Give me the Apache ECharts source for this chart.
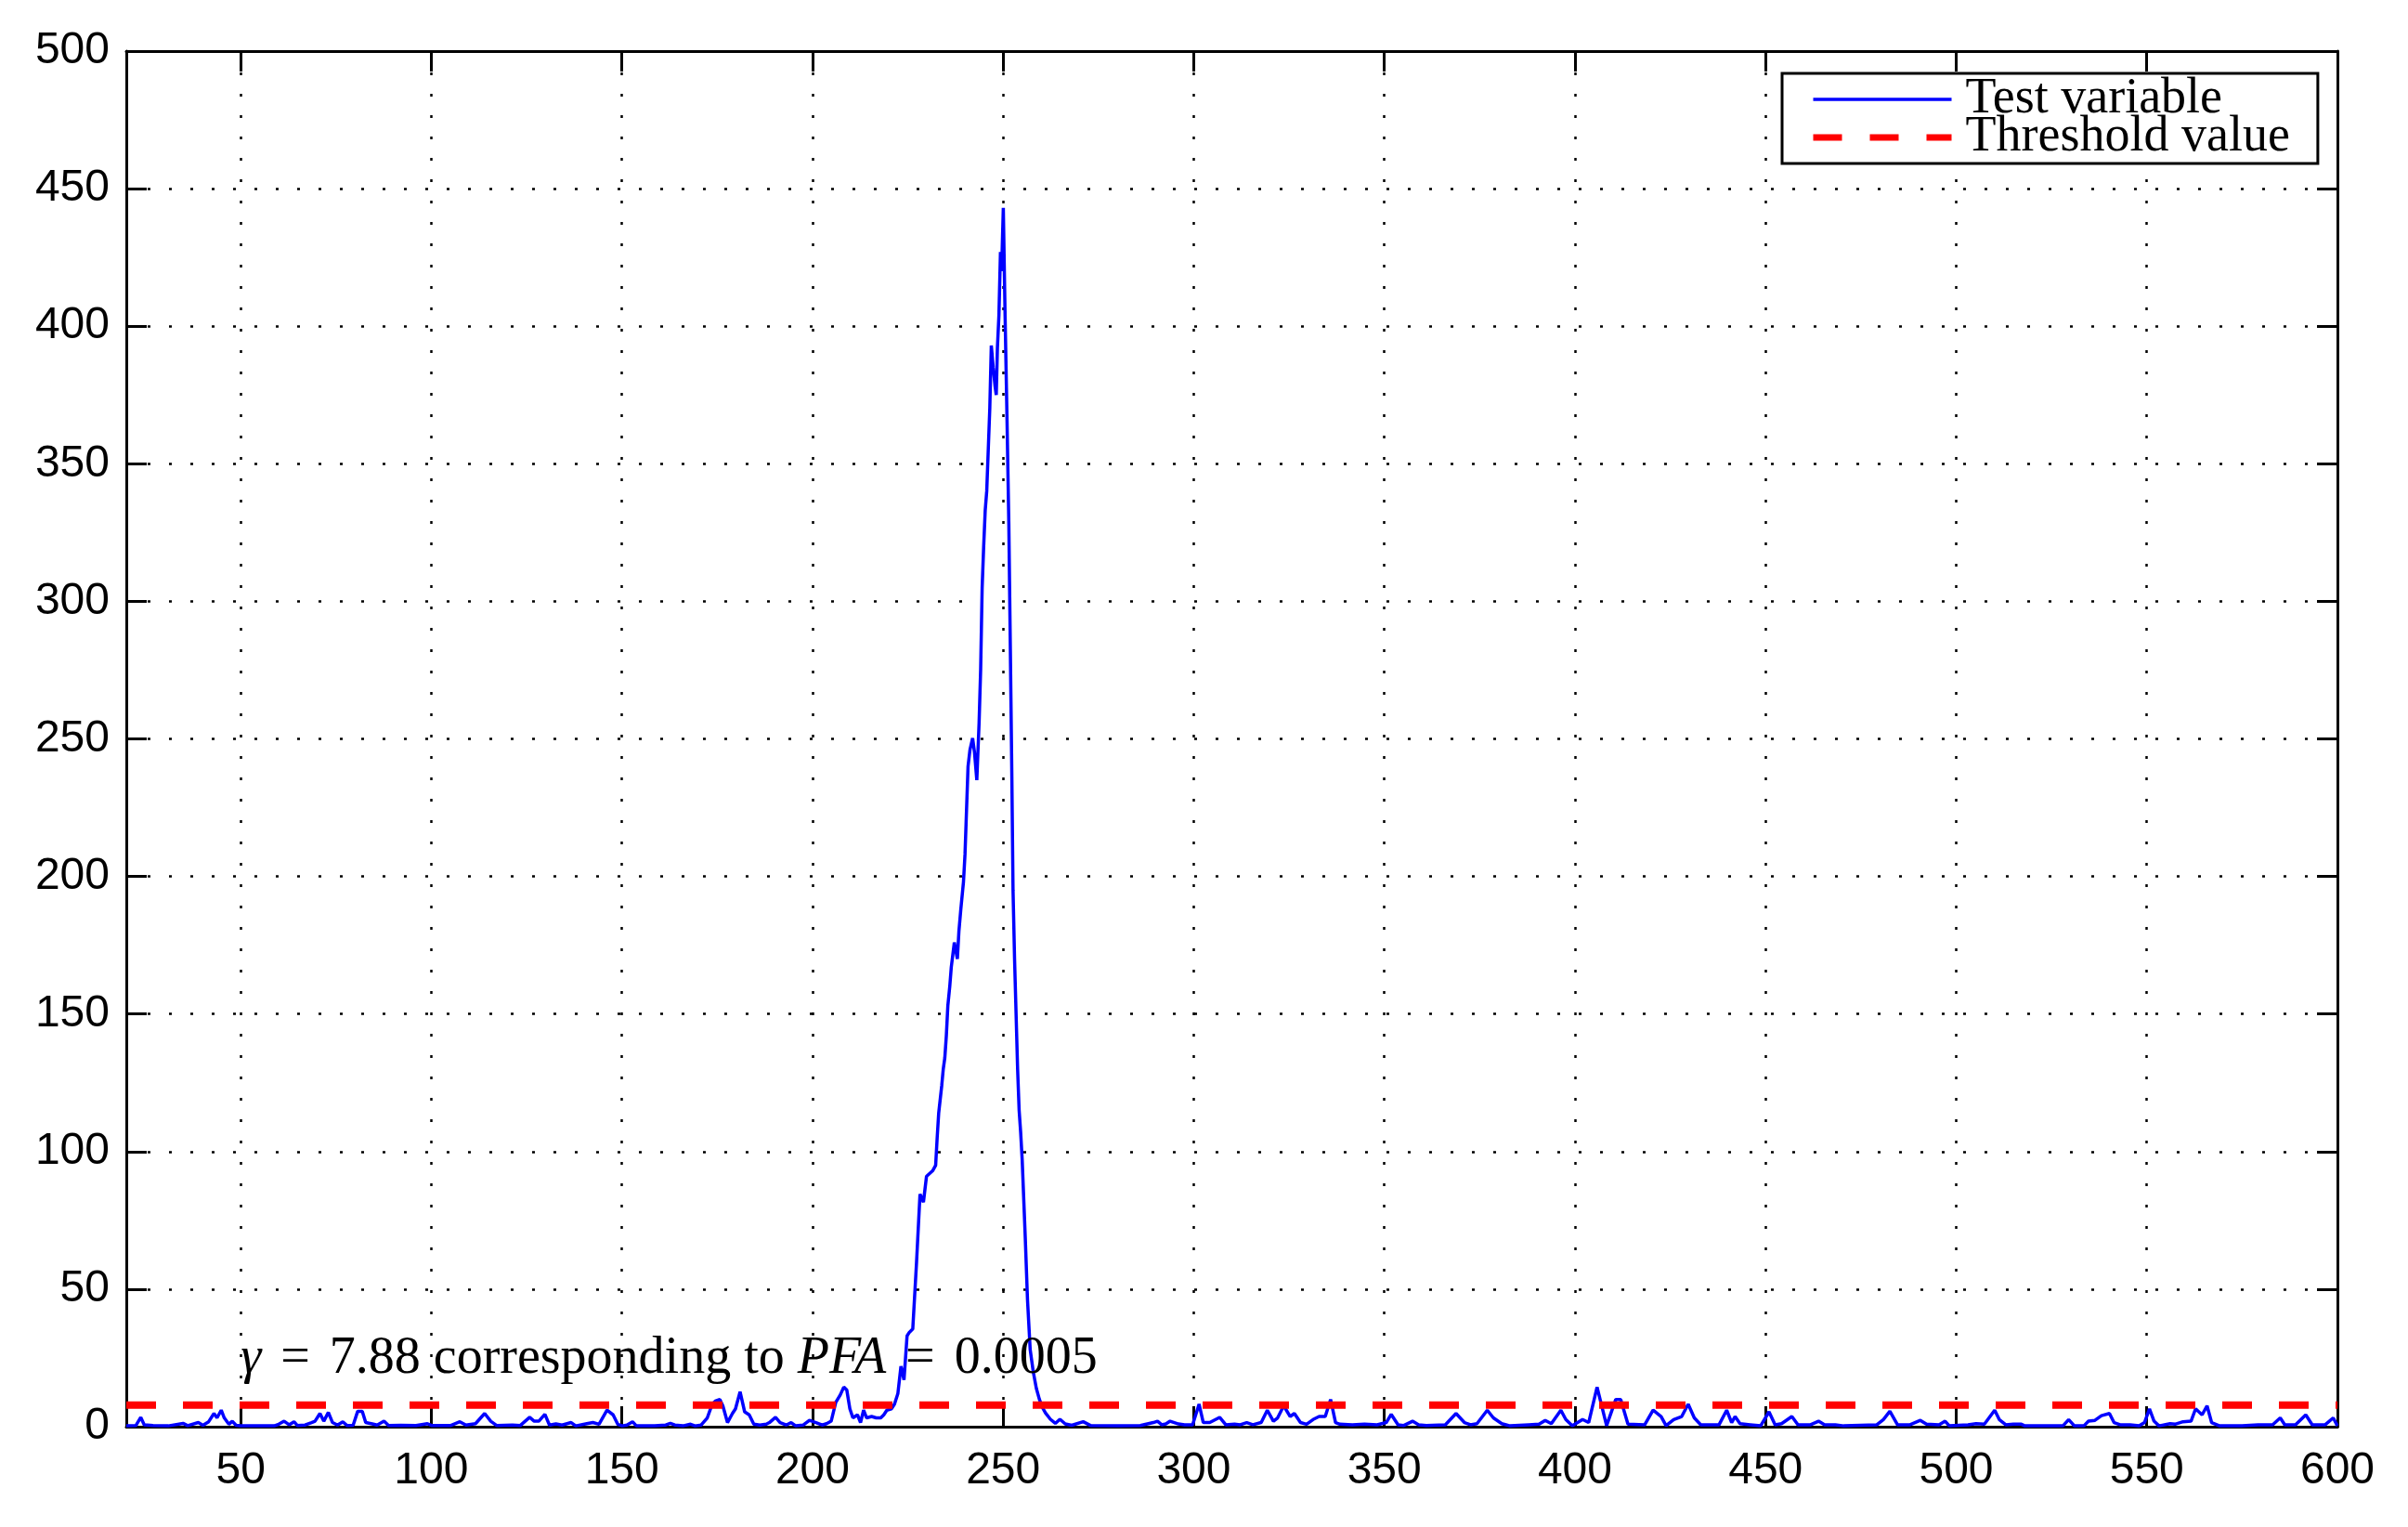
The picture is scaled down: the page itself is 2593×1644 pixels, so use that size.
<!DOCTYPE html>
<html>
<head>
<meta charset="utf-8">
<script src="https://cdn.jsdelivr.net/npm/echarts@6/dist/echarts.min.js"></script>
<style>
  html, body { margin: 0; padding: 0; background: #fff; }
  #main { width: 2593px; height: 1644px; }
</style>
</head>
<body>
<div id="main"></div>
<script>
// sample positions and test variable values
const sampleX = [
  20, 22.5, 23.8, 24.7, 27, 31, 34.9, 36.1, 38.9, 40.1, 41.6, 43, 43.8, 44.9, 45.7, 46.9, 47.8, 48.8,
  50, 55, 58.8, 60, 61.4, 62.7, 64, 64.9, 66.9, 68.6, 69.5, 70.8, 71.8, 73, 74.1, 75.4, 76.8, 77.9,
  79.5, 80.7, 81.9, 82.8, 84.8, 85.8, 87.6, 88.8, 92, 96, 99, 100.2, 105, 107.5, 109.1, 111.6, 114,
  115.6, 117.2, 121.3, 123.3, 125.8, 127, 128.2, 129.8, 131, 132.7, 134.3, 136.7, 137.9, 140.8, 142.4,
  144, 146.1, 147.7, 148.9, 150.1,
  151.3, 152.8, 153.8, 158.6, 161.5, 162.7, 163.9, 166, 168, 169.2, 170.8, 172.4, 173.7, 174.5, 175.7,
  176.5, 177.7, 179, 179.8, 181, 182.2, 183.4, 184.6, 186.2, 187.9, 188.7, 190.3, 191.5, 193.1, 194.4,
  195.6, 197.6, 199.2, 200.9, 202.5, 203.7, 204.9, 206.1, 207.3, 208.2, 209, 209.8, 210.6, 211.8,
  212.6, 213.4, 214.2, 215.5, 216.7, 217.9, 218.7, 219.5, 220.7, 221.5, 222.4,
  223.2, 224, 224.8, 225.4, 226.3, 227.3, 228.2, 229.1, 229.9, 231.5, 232.3, 232.7, 233.1, 233.5,
  233.9, 234.3, 234.7, 235.1, 235.5, 236, 236.4, 237.2, 238, 238.4, 238.9, 239.6, 240, 240.3, 240.8,
  241.3, 242, 242.5, 243.1, 243.7, 244.1, 244.5, 244.9, 245.3, 245.7, 246.1, 246.5, 246.9, 247.4,
  247.9, 248.2, 248.5, 248.9, 249.3, 249.6, 250.05,
  250.5, 251, 251.5, 251.9, 252.3, 252.6, 253, 253.4, 253.8, 254.2, 254.6, 255, 255.8, 256.4, 257.1,
  257.9, 258.7, 259.5, 260.3, 261.1, 262.4, 263.7, 264.9, 266.3, 268, 271, 273,
  280, 286, 289.4, 290.5, 291.6, 292.7, 293.8, 296, 297.6, 299.7, 301.4, 302.5, 304.2, 306.8, 308.4,
  310.7, 312.2, 313.9, 315.5, 317.7, 319.3, 320.9, 322, 323.6, 325.3, 326.4, 328, 329.6, 331.3, 332.9,
  334.5, 335.9, 337.2, 338.3, 341.6, 344.8, 348.1, 350.5, 351.8, 353.6,
  355, 357.4, 359, 361, 366, 368.8, 371, 372.6, 374.3, 377, 378.6, 380.8, 383, 387.9, 390.6, 392.2,
  393.8, 396.3, 397.6, 399.3, 402, 403.6, 405.8, 408.3, 410.7, 412, 413.9, 418.3, 420.5, 422.6, 423.9,
  425.9, 428, 429.7, 431.3, 433, 437.8, 439.8, 441.1, 442, 443.3, 446, 448.7, 450.9, 452.5, 454.2,
  456.9, 458.5, 461.8, 463.9, 465.5, 468.3, 470.5, 479.2, 480.9, 482.6, 484.6, 487.9, 490.6, 492.2,
  495.5, 497.1, 498.2, 503.1, 505.2, 507.4, 510.1,
  511.3, 513, 515, 517.1, 518, 528, 529.5, 531, 533.5, 534.7, 536.4, 538.1, 540.2, 541.4, 543, 545.6,
  548, 549.4, 550.7, 551.9, 553.2, 556.1, 557.4, 559.5, 561.6, 562.8, 564.5, 565.8, 567, 569.1, 575,
  579.2, 581.3, 583, 585, 586.2, 589, 591.7, 593.4, 596.8, 598.9, 600
];
const testValues = [
  0.3, 0.4, 3.4, 0.7, 0.4, 0.3, 1.2, 0.4, 1.5, 0.5, 1.8, 4.8, 3.2, 6.0, 3.2, 0.9, 2.0, 0.5,
  0.3, 0.3, 0.3, 0.9, 2.0, 0.7, 1.8, 0.4, 0.6, 1.5, 2.0, 4.8, 2.0, 5.2, 1.5, 0.6, 1.8, 0.4,
  0.5, 5.6, 5.6, 1.5, 0.9, 0.6, 2.0, 0.4, 0.5, 0.4, 1.1, 0.4, 0.4, 1.8, 0.6, 1.1, 4.8,
  2.0, 0.4, 0.6, 0.4, 3.4, 2.0, 2.0, 4.5, 0.6, 1.0, 0.6, 1.5, 0.3, 1.1, 1.5,
  0.9, 6.0, 4.3, 0.9, 0.3,
  0.6, 1.8, 0.3, 0.3, 0.6, 1.2, 0.6, 0.3, 0.9, 0.3, 0.6, 3.2, 8.2, 9.3, 9.9,
  7.5, 1.5, 4.8, 6.5, 12.7, 5.4, 4.3, 0.9, 0.6, 0.9, 1.5, 3.4, 1.5, 0.6, 1.5,
  0.3, 0.6, 2.3, 1.5, 0.6, 1.1, 2.0, 8.8, 11.6, 14.4, 13.3, 6.5, 3.2, 4.3,
  1.5, 6.0, 3.2, 3.7, 3.2, 3.2, 4.3, 6.0, 6.5, 8.2, 12.1,
  22, 17, 33, 34.3, 35.5, 60, 84.5, 81.6, 91, 93, 95, 105, 114, 119,
  124, 130, 134, 142, 153, 160, 167, 176, 170, 180, 188, 198, 208, 220, 240,
  246, 250.3, 245, 235, 256, 275, 305, 320, 333, 340, 355, 370, 393, 385,
  378, 375, 392, 404, 427, 420, 443,
  405, 368, 328, 282, 235, 195, 170, 150, 130, 115, 107, 97, 69, 46, 28,
  20, 14, 10, 7, 5, 2.7, 1.2, 2.7, 1.0, 0.5, 1.8, 0.4,
  0.3, 0.4, 1.5, 2.0, 0.7, 1.0, 2.0, 1.0, 0.7, 0.7, 8.2, 1.5, 1.5, 3.4, 0.7,
  0.9, 0.7, 1.5, 0.7, 1.5, 6.0, 2.0, 3.2, 7.6, 3.7, 4.8, 1.5, 0.9, 2.6, 3.7,
  3.7, 9.9, 1.5, 0.9, 0.7, 0.9, 0.7, 1.5, 4.5, 0.7,
  0.4, 2.0, 0.7, 0.4, 0.7, 4.8, 1.5, 0.7, 1.1, 6.0, 3.2, 1.1, 0.3, 0.7, 0.9, 2.3,
  1.1, 6.0, 2.6, 0.3, 2.6, 1.5, 14.4, 0.4, 9.9, 9.9, 0.9, 0.7, 6.0, 3.7, 0.4,
  2.6, 3.7, 8.2, 3.2, 0.7, 0.7, 6.0, 1.5, 3.7, 1.1, 0.7, 0.3, 5.4, 0.7, 1.1,
  3.7, 0.7, 0.7, 2.0, 0.7, 0.7, 0.3, 0.7, 2.6, 5.6, 0.7, 0.7, 2.3, 0.9,
  0.7, 2.0, 0.3, 0.7, 1.1, 0.9, 6.0,
  2.6, 0.7, 0.9, 0.9, 0.3, 0.3, 2.6, 0.3, 0.3, 2.0, 2.3, 4.0, 4.8, 1.5, 0.7, 0.7,
  0.3, 1.5, 6.5, 2.0, 0.3, 1.1, 0.9, 1.8, 2.0, 6.5, 4.3, 7.6, 1.5, 0.3, 0.3,
  0.7, 0.7, 0.7, 3.2, 0.7, 0.7, 4.3, 0.7, 0.7, 3.2, 0.3
];

// threshold line
const thresholdX = [20, 600];
const thresholdValue = 7.88;

// axes
const xRange = [20, 600];
const xTicks = [50, 100, 150, 200, 250, 300, 350, 400, 450, 500, 550, 600];
const yRange = [0, 500];
const yStep = 50;

const seriesNames = ['Test variable', 'Threshold value'];
const annotation = { x: 50, y: 20 };

const serif = 'Liberation Serif, Times New Roman, serif';
const sans = 'Liberation Sans, Arial, Helvetica, sans-serif';

var myChart = echarts.init(document.getElementById('main'));

const testData = sampleX.map((x, i) => [x, testValues[i]]);
const thresholdData = thresholdX.map((x) => [x, thresholdValue]);

const gridDots = { color: '#000', width: 2.5, type: [3, 20] };
const boxLine = { show: true, onZero: false, lineStyle: { color: '#000', width: 3 } };
const innerTick = { show: true, inside: true, length: 22, lineStyle: { color: '#000', width: 3 } };
// legend shows only the line, no marker
const noMarker = { color: 'rgba(0,0,0,0)', opacity: 0, borderWidth: 0 };

var option = {
  animation: false,
  backgroundColor: '#fff',
  grid: { left: 136, right: 76, top: 55, bottom: 108, containLabel: false },
  legend: {
    orient: 'vertical',
    left: 1919,
    top: 79,
    padding: [1, 30, 1, 30],
    itemGap: -13,
    itemWidth: 149,
    itemHeight: 42,
    backgroundColor: '#fff',
    borderColor: '#000',
    borderWidth: 3,
    borderRadius: 0,
    textStyle: { fontFamily: serif, fontSize: 54, color: '#000', padding: [0, 0, 0, 10] },
    data: [
      { name: seriesNames[0], itemStyle: noMarker, lineStyle: { width: 3.3, color: '#0000ff', type: 'solid', opacity: 1 } },
      { name: seriesNames[1], itemStyle: noMarker, lineStyle: { width: 7, color: '#ff0000', type: [31, 30], opacity: 1 } }
    ]
  },
  xAxis: [
    {
      type: 'value', position: 'bottom', min: xRange[0], max: xRange[1],
      axisLine: boxLine,
      axisTick: Object.assign({ customValues: xTicks }, innerTick),
      axisLabel: { customValues: xTicks, fontFamily: sans, fontSize: 48, color: '#000', margin: 24 },
      splitLine: { show: true, lineStyle: gridDots }
    },
    {
      type: 'value', position: 'top', min: xRange[0], max: xRange[1],
      axisLine: boxLine,
      axisTick: Object.assign({ customValues: xTicks }, innerTick),
      axisLabel: { show: false },
      splitLine: { show: false }
    }
  ],
  yAxis: [
    {
      type: 'value', position: 'left', min: yRange[0], max: yRange[1], interval: yStep,
      axisLine: boxLine,
      axisTick: innerTick,
      axisLabel: { fontFamily: sans, fontSize: 48, color: '#000', margin: 18 },
      splitLine: { show: true, lineStyle: gridDots }
    },
    {
      type: 'value', position: 'right', min: yRange[0], max: yRange[1], interval: yStep,
      axisLine: boxLine,
      axisTick: innerTick,
      axisLabel: { show: false },
      splitLine: { show: false }
    }
  ],
  series: [
    {
      name: seriesNames[0],
      type: 'line',
      data: testData,
      symbol: 'none',
      lineStyle: { color: '#0000ff', width: 3.5 },
      itemStyle: { color: '#0000ff' },
      z: 3
    },
    {
      name: seriesNames[1],
      type: 'line',
      data: thresholdData,
      symbol: 'none',
      lineStyle: { color: '#ff0000', width: 8, type: [32, 29], cap: 'butt' },
      itemStyle: { color: '#ff0000' },
      z: 4
    }
  ]
};
myChart.setOption(option);

// gamma annotation, anchored in data coordinates
var p = myChart.convertToPixel({ xAxisIndex: 0, yAxisIndex: 0 }, [annotation.x, annotation.y]);
myChart.setOption({
  graphic: [{
    type: 'text',
    x: p[0],
    y: p[1] + 15,
    z: 10,
    style: {
      text: '{i|γ}{eq|=}7.88 corresponding to {i|PFA}{eq|=}0.0005',
      font: '56px ' + serif,
      fill: '#000',
      align: 'left',
      verticalAlign: 'bottom',
      lineHeight: 56,
      rich: {
        i: { fontStyle: 'italic', fontFamily: serif, fontSize: 56, lineHeight: 56, fill: '#000' },
        eq: { fontFamily: serif, fontSize: 56, lineHeight: 56, fill: '#000', padding: [0, 21, 0, 21] }
      }
    }
  }]
});
</script>
</body>
</html>
